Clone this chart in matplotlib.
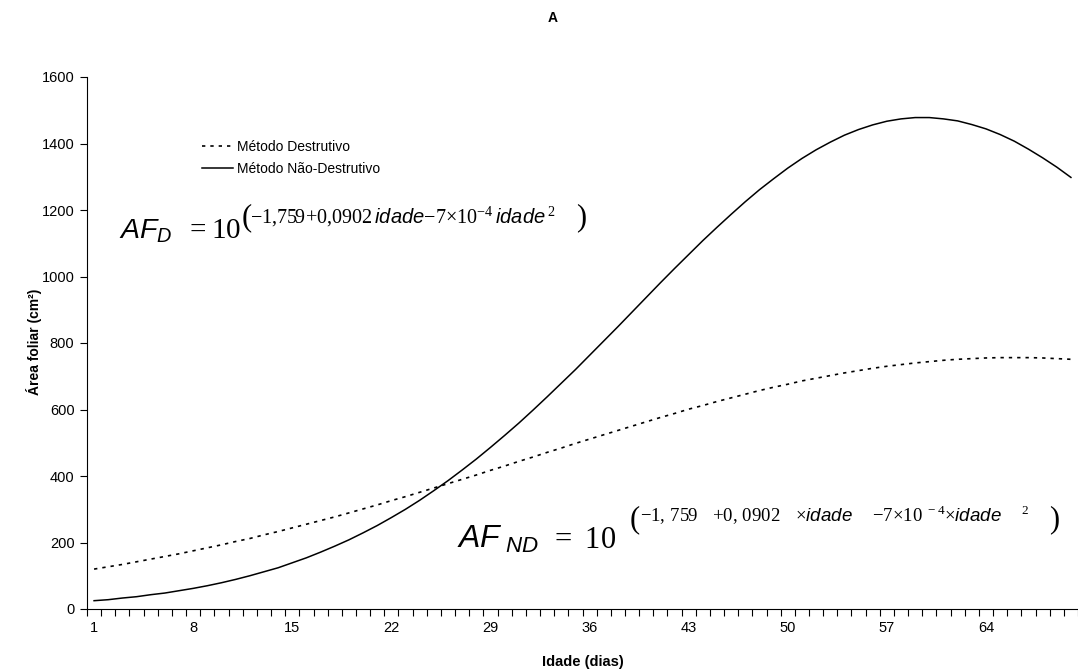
import numpy as np
import matplotlib
matplotlib.use('Agg')
import matplotlib.pyplot as plt

# Leaf area (cm2) per day
dias = list(range(1, 71))
destrutivo = [120, 127, 134, 142, 150, 158, 166, 175, 184, 193,
              203, 212, 223, 233, 244, 255, 266, 277, 289, 301,
              313, 326, 338, 351, 364, 377, 390, 403, 417, 430,
              444, 457, 471, 484, 498, 511, 524, 537, 550, 563,
              576, 588, 601, 612, 624, 635, 646, 657, 667, 676,
              686, 694, 702, 710, 717, 724, 730, 735, 740, 744,
              748, 751, 753, 755, 756, 756, 756, 755, 753, 751]
nao_destrutivo = [25, 28, 33, 37, 43, 48, 55, 62, 70, 79,
                  89, 100, 112, 124, 139, 154, 171, 189, 208, 229,
                  251, 275, 300, 327, 356, 386, 418, 451, 486, 522,
                  559, 598, 638, 679, 720, 763, 806, 849, 893, 937,
                  981, 1024, 1066, 1108, 1148, 1187, 1225, 1261, 1294, 1326,
                  1355, 1381, 1404, 1425, 1442, 1456, 1467, 1474, 1478, 1478,
                  1474, 1468, 1457, 1444, 1427, 1407, 1383, 1357, 1329, 1298]
xticks = [1, 8, 15, 22, 29, 36, 43, 50, 57, 64]
yticks = [0, 200, 400, 600, 800, 1000, 1200, 1400, 1600]

plt.rcParams['font.family'] = ['Liberation Sans', 'DejaVu Sans']
plt.rcParams['mathtext.fontset'] = 'custom'
plt.rcParams['mathtext.rm'] = 'Liberation Serif'
plt.rcParams['mathtext.it'] = 'Liberation Sans:italic'
plt.rcParams['mathtext.bf'] = 'Liberation Sans:bold'

W, H = 1078, 671
fig = plt.figure(figsize=(W / 100, H / 100), dpi=100)
ax = fig.add_axes([87 / W, 1 - 609 / H, (W - 87) / W, (609 - 77) / H])


def px(x, y):
    return x / W, 1 - y / H


ax.plot(dias, destrutivo, color='black', lw=1.2, linestyle=(0, (2, 3)),
        label='Método Destrutivo')
ax.plot(dias, nao_destrutivo, color='black', lw=1.1,
        label='Método Não-Destrutivo')

ax.set_xlim(0.5, 70.5)
ax.set_ylim(0, 1600)
ax.set_xticks(xticks)
ax.set_xticklabels([str(t) for t in xticks], fontsize=10.5)
ax.set_xticks(np.arange(0.5, 71, 1), minor=True)
ax.tick_params(axis='x', which='major', length=0, pad=9)
ax.tick_params(axis='x', which='minor', length=5, width=0.8, direction='out')
ax.set_yticks(yticks)
ax.tick_params(axis='y', length=5, width=0.8, direction='out', labelsize=10.5, pad=4)
for s in ['top', 'right']:
    ax.spines[s].set_visible(False)
for s in ['left', 'bottom']:
    ax.spines[s].set_linewidth(0.8)

fig.text(*px(34, 342), 'Área foliar (cm²)', rotation=90, ha='center', va='center',
         fontsize=10, fontweight='bold')
fig.text(*px(583, 662), 'Idade (dias)', ha='center', va='center',
         fontsize=10.5, fontweight='bold')
fig.text(*px(553, 18), 'A', ha='center', va='center', fontsize=10, fontweight='bold')

ax.legend(loc='upper left', bbox_to_anchor=px(202, 140), bbox_transform=fig.transFigure,
          frameon=False, fontsize=10, handlelength=2.2, handletextpad=0.35,
          labelspacing=0.6, borderpad=0, borderaxespad=0)

# equation for the destructive method
fig.text(*px(119, 238), r'$\mathit{AF}_{\mathit{D}}$', fontsize=20.5, va='baseline')
fig.text(*px(185, 238), r'$=10$', fontsize=21, va='baseline')
fig.text(*px(242, 225), '(', family='Liberation Serif', fontsize=22, va='baseline')
fig.text(*px(250, 223),
         r'$-1{,}759{+}0{,}0902\,\mathit{idade}{-}7{\times}10^{-4}\,\mathit{idade}^{\,2}$',
         fontsize=14.5, va='baseline')
fig.text(*px(576, 225), ')', family='Liberation Serif', fontsize=22, va='baseline')

# equation for the non-destructive method
fig.text(*px(457, 548), r'$\mathit{AF}_{\ \mathit{ND}}$', fontsize=23, va='baseline')
fig.text(*px(549, 548), r'$=\ 10$', fontsize=22, va='baseline')
fig.text(*px(630, 527), '(', family='Liberation Serif', fontsize=22, va='baseline')
fig.text(*px(640, 521),
         r'$-1{,}\ 759\ \ \ {+}0{,}\ 0902\ \ \ {\times}\mathit{idade}\ \ \ \ {-}7{\times}10^{\ -4}{\times}\mathit{idade}\ \ \ \ {}^{2}$',
         fontsize=13.5, va='baseline')
fig.text(*px(1049, 527), ')', family='Liberation Serif', fontsize=22, va='baseline')

fig.savefig('out.png', dpi=100)
